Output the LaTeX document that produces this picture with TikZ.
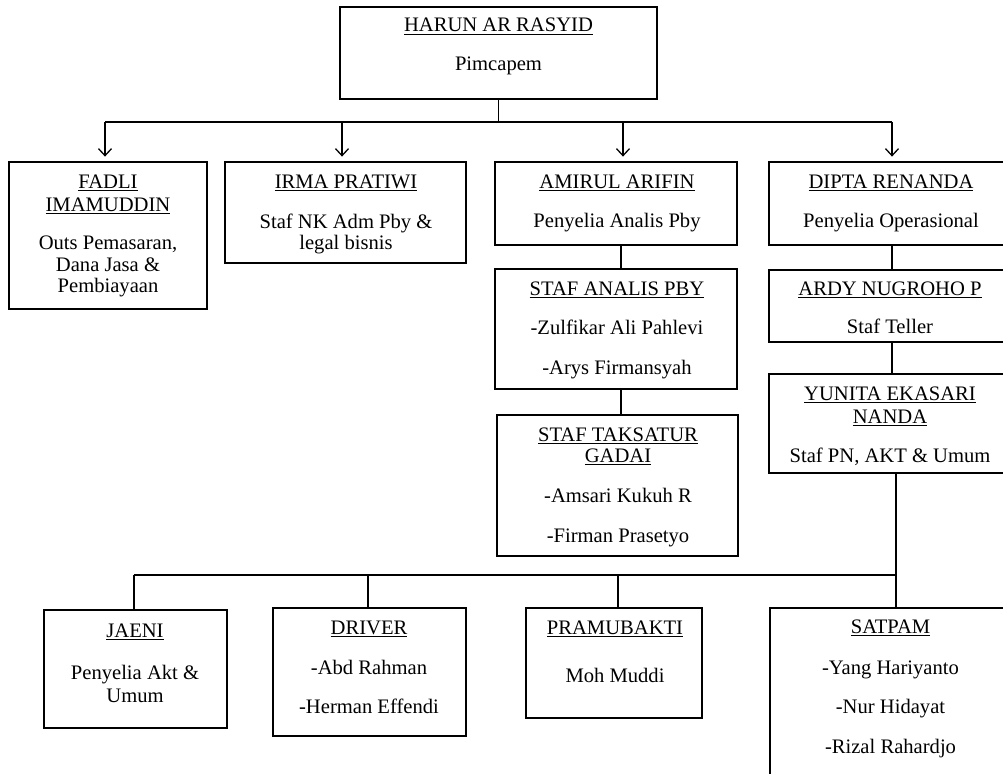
\documentclass[tikz,border=0pt]{standalone}
\usepackage{fontspec}
\setmainfont{Liberation Serif}
\usetikzlibrary{arrows.meta}
\newcommand\ulx[1]{\setbox0\hbox{#1}\rlap{\rule[-3.2pt]{\wd0}{1.1pt}}\box0}
\begin{document}
\begin{tikzpicture}[x=1pt,y=-1pt,
  box/.style={draw, line width=2.8pt, rectangle, inner sep=0pt},
  txt/.style={anchor=base, inner sep=0pt, font=\fontsize{20.6}{23}\selectfont},
  conn/.style={line width=1.3pt},
  arr/.style={conn, -{Straight Barb[length=7pt,width=13pt,line width=1.3pt]}, shorten >=4pt}]
\useasboundingbox (0,0) rectangle (1003,773);
\clip (0,0) rectangle (1003,773);
\fill[white] (0,0) rectangle (1003,773);
% boxes
\node[box, minimum width=317pt, minimum height=92pt] (top) at (498.5,53) {};
\node[box, minimum width=198pt, minimum height=147pt] (fadli) at (108,235.5) {};
\node[box, minimum width=241pt, minimum height=101pt] (irma) at (345.5,212.5) {};
\node[box, minimum width=242pt, minimum height=83pt] (amirul) at (616,203.5) {};
\node[box, minimum width=243pt, minimum height=83pt] (dipta) at (890.5,203.5) {};
\node[box, minimum width=242pt, minimum height=120pt] (analis) at (616,329) {};
\node[box, minimum width=243pt, minimum height=72pt] (ardy) at (890.5,306) {};
\node[box, minimum width=241pt, minimum height=141pt] (taksatur) at (617.5,485.5) {};
\node[box, minimum width=243pt, minimum height=99pt] (yunita) at (890.5,423.5) {};
\node[box, minimum width=183pt, minimum height=118pt] (jaeni) at (135.5,669) {};
\node[box, minimum width=193pt, minimum height=128pt] (driver) at (369.5,672) {};
\node[box, minimum width=176pt, minimum height=110pt] (pramu) at (614,663) {};
\node[box, minimum width=242pt, minimum height=192pt] (satpam) at (891,704) {};
% texts
\node[txt] (t01) at (498.5,32) {\ulx{HARUN AR RASYID}};
\node[txt] (t02) at (498.5,71) {Pimcapem};
\node[txt] (t03) at (108,188) {\ulx{FADLI}};
\node[txt] (t04) at (108,211) {\ulx{IMAMUDDIN}};
\node[txt] (t05) at (108,249) {Outs Pemasaran,};
\node[txt] (t06) at (108,271) {Dana Jasa \&};
\node[txt] (t07) at (108,292) {Pembiayaan};
\node[txt] (t08) at (346,188) {\ulx{IRMA PRATIWI}};
\node[txt] (t09) at (346,228) {Staf NK Adm Pby \&};
\node[txt] (t10) at (346,249) {legal bisnis};
\node[txt] (t11) at (617,188) {\ulx{AMIRUL ARIFIN}};
\node[txt] (t12) at (617,227) {Penyelia Analis Pby};
\node[txt] (t13) at (891,188) {\ulx{DIPTA RENANDA}};
\node[txt] (t14) at (891,227) {Penyelia Operasional};
\node[txt] (t15) at (617,295) {\ulx{STAF ANALIS PBY}};
\node[txt] (t16) at (617,334) {-Zulfikar Ali Pahlevi};
\node[txt] (t17) at (617,374) {-Arys Firmansyah};
\node[txt] (t18) at (890,295) {\ulx{ARDY NUGROHO P}};
\node[txt] (t19) at (890,333) {Staf Teller};
\node[txt] (t20) at (890,400) {\ulx{YUNITA EKASARI}};
\node[txt] (t21) at (890,423) {\ulx{NANDA}};
\node[txt] (t22) at (890,462) {Staf PN, AKT \& Umum};
\node[txt] (t23) at (618,441) {\ulx{STAF TAKSATUR}};
\node[txt] (t24) at (618,462) {\ulx{GADAI}};
\node[txt] (t25) at (618,502) {-Amsari Kukuh R};
\node[txt] (t26) at (618,542) {-Firman Prasetyo};
\node[txt] (t27) at (135,637) {\ulx{JAENI}};
\node[txt] (t28) at (135,679) {Penyelia Akt \&};
\node[txt] (t29) at (135,702) {Umum};
\node[txt] (t30) at (369,634) {\ulx{DRIVER}};
\node[txt] (t31) at (369,674) {-Abd Rahman};
\node[txt] (t32) at (369,713) {-Herman Effendi};
\node[txt] (t33) at (615,634) {\ulx{PRAMUBAKTI}};
\node[txt] (t34) at (615,682) {Moh Muddi};
\node[txt] (t35) at (890.5,633) {\ulx{SATPAM}};
\node[txt] (t36) at (890.5,674) {-Yang Hariyanto};
\node[txt] (t37) at (890.5,713) {-Nur Hidayat};
\node[txt] (t38) at (890.5,753) {-Rizal Rahardjo};
% top bus
\coordinate (b1) at (105,122);
\coordinate (b2) at (342,122);
\coordinate (b3) at (623,122);
\coordinate (b4) at (892,122);
\draw[conn] (top.south) -- (top.south |- b1);
\draw[conn] (b1) -- (b4);
\draw[arr] (b1) -- (b1 |- fadli.north);
\draw[arr] (b2) -- (b2 |- irma.north);
\draw[arr] (b3) -- (b3 |- amirul.north);
\draw[arr] (b4) -- (b4 |- dipta.north);
% chains
\draw[conn] ([xshift=5pt]amirul.south) -- ([xshift=5pt]analis.north);
\draw[conn] ([xshift=5pt]analis.south) -- ([xshift=3.5pt]taksatur.north);
\draw[conn] ([xshift=1.5pt]dipta.south) -- ([xshift=1.5pt]ardy.north);
\draw[conn] ([xshift=1.5pt]ardy.south) -- ([xshift=1.5pt]yunita.north);
% bottom bus
\coordinate (c1) at (134,575);
\coordinate (c2) at (368,575);
\coordinate (c3) at (618,575);
\coordinate (c4) at (896,575);
\draw[conn] ([xshift=5.5pt]yunita.south) -- ([xshift=5pt]satpam.north);
\draw[conn] (c1) -- (c4);
\draw[conn] (c1) -- (c1 |- jaeni.north);
\draw[conn] (c2) -- (c2 |- driver.north);
\draw[conn] (c3) -- (c3 |- pramu.north);
\end{tikzpicture}
\end{document}
